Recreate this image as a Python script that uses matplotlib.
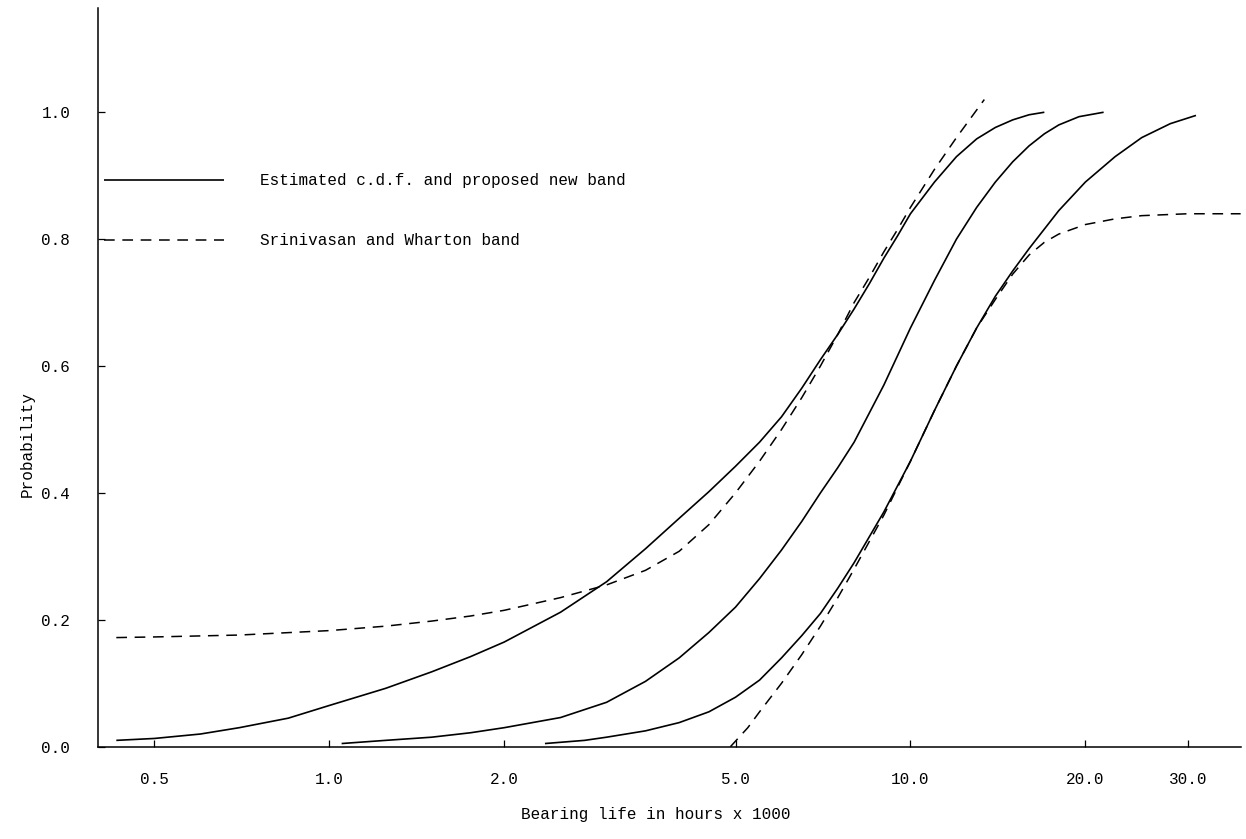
import matplotlib
matplotlib.use("Agg")
import matplotlib.pyplot as plt
from matplotlib.ticker import FixedLocator, NullLocator

# bearing life (hours x 1000) and probability
est_low_x = [0.43, 0.5, 0.6, 0.7, 0.85, 1.0, 1.25, 1.5, 1.75, 2.0, 2.5, 3.0, 3.5, 4.0, 4.5, 5.0, 5.5,
             6.0, 6.5, 7.0, 7.5, 8.0, 8.5, 9.0, 9.5, 10.0, 11.0, 12.0, 13.0, 14.0, 15.0, 16.0, 17.0]
est_low_p = [0.010, 0.013, 0.020, 0.030, 0.045, 0.065, 0.092, 0.118, 0.142, 0.165, 0.212, 0.260, 0.312,
             0.360, 0.402, 0.442, 0.480, 0.520, 0.565, 0.610, 0.650, 0.690, 0.730, 0.770, 0.805, 0.840,
             0.890, 0.930, 0.958, 0.976, 0.988, 0.996, 1.000]

est_mid_x = [1.05, 1.25, 1.5, 1.75, 2.0, 2.5, 3.0, 3.5, 4.0, 4.5, 5.0, 5.5, 6.0, 6.5, 7.0, 7.5, 8.0,
             9.0, 10.0, 11.0, 12.0, 13.0, 14.0, 15.0, 16.0, 17.0, 18.0, 19.5, 21.5]
est_mid_p = [0.005, 0.010, 0.015, 0.022, 0.030, 0.046, 0.070, 0.103, 0.140, 0.180, 0.220, 0.265, 0.310,
             0.355, 0.400, 0.440, 0.480, 0.570, 0.660, 0.735, 0.800, 0.850, 0.890, 0.922, 0.947, 0.966,
             0.980, 0.993, 1.000]

est_high_x = [2.35, 2.75, 3.0, 3.5, 4.0, 4.5, 5.0, 5.5, 6.0, 6.5, 7.0, 7.5, 8.0, 9.0, 10.0, 11.0, 12.0,
              13.0, 14.0, 15.0, 16.0, 18.0, 20.0, 22.5, 25.0, 28.0, 31.0]
est_high_p = [0.005, 0.010, 0.015, 0.025, 0.038, 0.055, 0.078, 0.105, 0.140, 0.175, 0.210, 0.250, 0.290,
              0.370, 0.450, 0.530, 0.600, 0.660, 0.710, 0.750, 0.785, 0.845, 0.890, 0.930, 0.960, 0.982,
              0.995]

sw_upper_x = [0.43, 0.5, 0.7, 1.0, 1.25, 1.5, 1.75, 2.0, 2.5, 3.0, 3.5, 4.0, 4.5, 5.0, 5.5, 6.0, 6.5,
              7.0, 7.5, 8.0, 8.5, 9.0, 9.5, 10.0, 11.0, 12.0, 13.4]
sw_upper_p = [0.172, 0.173, 0.176, 0.183, 0.190, 0.198, 0.206, 0.215, 0.235, 0.255, 0.278, 0.308, 0.350,
              0.400, 0.450, 0.500, 0.550, 0.600, 0.650, 0.700, 0.740, 0.780, 0.815, 0.850, 0.910, 0.960,
              1.020]

sw_lower_x = [4.9, 5.25, 5.5, 6.0, 6.5, 7.0, 7.5, 8.0, 9.0, 10.0, 11.0, 12.0, 13.0, 14.0, 15.0, 16.0,
              17.0, 18.0, 20.0, 22.5, 25.0, 30.0, 37.0]
sw_lower_p = [0.000, 0.030, 0.055, 0.100, 0.145, 0.190, 0.235, 0.280, 0.365, 0.450, 0.530, 0.600, 0.660,
              0.705, 0.745, 0.775, 0.795, 0.808, 0.823, 0.832, 0.837, 0.840, 0.840]

x_ticks = [0.5, 1.0, 2.0, 5.0, 10.0, 20.0, 30.0]
x_tick_labels = ["0.5", "1.0", "2.0", "5.0", "10.0", "20.0", "30.0"]
y_ticks = [0.0, 0.2, 0.4, 0.6, 0.8, 1.0]
y_tick_labels = ["0.0", "0.2", "0.4", "0.6", "0.8", "1.0"]


def main() -> None:
    plt.rcParams["font.family"] = ["Liberation Mono", "DejaVu Sans Mono"]
    plt.rcParams["font.size"] = 11.5

    fig = plt.figure(figsize=(12.46, 8.39), dpi=100)
    ax = fig.add_axes([0.0787, 0.110, 0.917, 0.881])

    solid = dict(color="black", lw=1.2, solid_capstyle="butt")
    dashed = dict(color="black", lw=1.1, linestyle=(0, (7, 5)))

    ax.plot(est_low_x, est_low_p, label="Estimated c.d.f. and proposed new band", **solid)
    ax.plot(est_mid_x, est_mid_p, **solid)
    ax.plot(est_high_x, est_high_p, **solid)
    ax.plot(sw_upper_x, sw_upper_p, label="Srinivasan and Wharton band", **dashed)
    ax.plot(sw_lower_x, sw_lower_p, **dashed)

    ax.set_xscale("log")
    ax.set_xlim(0.40, 37.0)
    ax.set_ylim(0.0, 1.165)
    ax.xaxis.set_major_locator(FixedLocator(x_ticks))
    ax.xaxis.set_minor_locator(NullLocator())
    ax.set_xticklabels(x_tick_labels)
    ax.set_yticks(y_ticks)
    ax.set_yticklabels(y_tick_labels)
    ax.tick_params(direction="in", length=5, width=0.9, pad=18)
    ax.tick_params(axis="y", pad=20)

    for side in ("top", "right"):
        ax.spines[side].set_visible(False)
    for side in ("left", "bottom"):
        ax.spines[side].set_linewidth(1.1)

    ax.set_xlabel("Bearing life in hours x 1000")
    ax.xaxis.set_label_coords(0.488, -0.082)
    ax.set_ylabel("Probability")
    ax.yaxis.set_label_coords(-0.055, 0.41)

    ax.legend(loc="center left", bbox_to_anchor=(0.005, 0.725), frameon=False,
              handlelength=7.5, handletextpad=2.3, labelspacing=2.8, borderaxespad=0, borderpad=0)

    fig.savefig("out.png", dpi=100)


if __name__ == "__main__":
    main()
